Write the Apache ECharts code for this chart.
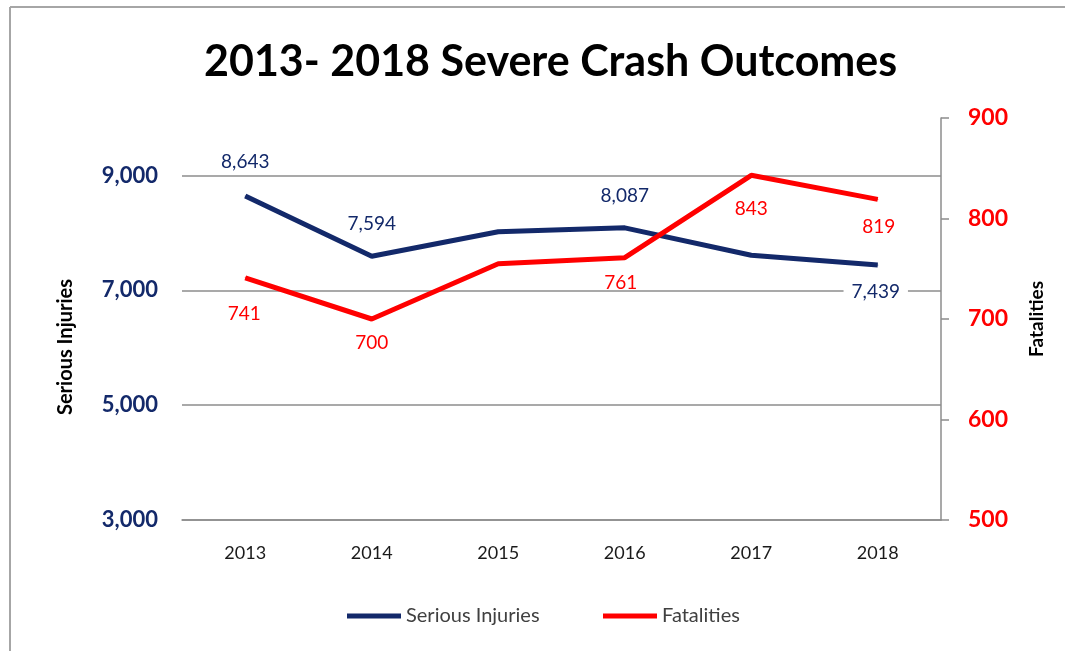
<!DOCTYPE html>
<html lang="en">
<head>
  <meta charset="UTF-8">
  <title>2013- 2018 Severe Crash Outcomes</title>
  <style>
    * { margin: 0; padding: 0; }
    html, body { background: #fff; }
    #main { width: 1065px; height: 651px; }
  </style>
</head>
<body>
  <div id="main"></div>
  <script src="https://cdn.jsdelivr.net/npm/echarts@6/dist/echarts.min.js"></script>
  <script>
  // data
  var years = ['2013', '2014', '2015', '2016', '2017', '2018'];
  var injuries = [8643, 7594, 8020, 8087, 7610, 7439];
  var fatalities = [741, 700, 755, 761, 843, 819];
  var leftTicks = [3000, 5000, 7000, 9000];
  var rightTicks = [500, 600, 700, 800, 900];

  var navy = '#13296a';
  var red = '#ff0000';
  var font = 'Lato';

  // label placement per point (null = no label)
  var injuryLabelOffsets = [[0, -34], [0, -32], null, [0, -32], null, [-2, 27]];
  var fatalLabelOffsets = [[-1, 36], [0, 24], null, [-4, 25], [0, 34], [1, 27]];

  function fmt(v) { return Number(v).toLocaleString('en-US'); }

  function buildData(values, offsets, color, extra) {
    return values.map(function (v, i) {
      var off = offsets[i];
      if (!off) return { value: v, label: { show: false } };
      var lab = {
        show: true,
        position: 'inside',
        offset: off,
        color: color,
        fontFamily: font,
        fontSize: 19,
        formatter: function (p) { return fmt(p.value); }
      };
      if (extra && extra[i]) Object.assign(lab, extra[i]);
      return { value: v, label: lab };
    });
  }

  var chart = echarts.init(document.getElementById('main'));

  var gridColor = '#8c8c8c';
  var legendText = { fontFamily: font, fontSize: 20, color: '#404040' };

  var option = {
    backgroundColor: '#fff',
    animation: false,
    title: {
      text: '2013- 2018 Severe Crash Outcomes',
      left: 199,
      top: 36,
      textStyle: { fontFamily: font, fontWeight: 'bold', fontSize: 43, color: '#000' }
    },
    legend: [
      {
        left: 342, top: 601, icon: 'rect', itemWidth: 54, itemHeight: 5,
        data: ['Serious Injuries'], textStyle: legendText
      },
      {
        left: 598, top: 601, icon: 'rect', itemWidth: 54, itemHeight: 5,
        data: ['Fatalities'], textStyle: legendText
      }
    ],
    grid: { left: 182, right: 124, top: 118, bottom: 131 },
    xAxis: {
      type: 'category',
      data: years,
      boundaryGap: true,
      axisLine: { lineStyle: { color: gridColor, width: 1.5 } },
      axisTick: { show: false },
      axisLabel: { margin: 24, fontFamily: font, fontSize: 18, color: '#1a1a1a' }
    },
    yAxis: [
      {
        type: 'value',
        min: 3000,
        max: 10000,
        interval: 2000,
        name: 'Serious Injuries',
        nameLocation: 'middle',
        nameGap: 106,
        nameTextStyle: { fontFamily: font, fontWeight: 'bold', fontSize: 20, color: '#000', padding: [0, 56, 0, 0] },
        axisLine: { show: false },
        axisTick: { show: false },
        axisLabel: {
          margin: 24,
          showMaxLabel: false,
          fontFamily: font,
          fontWeight: 'bold',
          fontSize: 22,
          color: navy,
          formatter: function (v) { return leftTicks.indexOf(v) >= 0 ? fmt(v) : ''; }
        },
        splitLine: {
          lineStyle: { color: [gridColor, gridColor, gridColor, gridColor, 'rgba(0,0,0,0)'], width: 1.5 }
        }
      },
      {
        type: 'value',
        min: 500,
        max: 900,
        interval: 100,
        position: 'right',
        name: 'Fatalities',
        nameLocation: 'middle',
        nameGap: 86,
        nameRotate: 90,
        nameTextStyle: { fontFamily: font, fontWeight: 'bold', fontSize: 19, color: '#000' },
        axisLine: { show: true, lineStyle: { color: gridColor, width: 1.5 } },
        axisTick: { show: true, length: 8, lineStyle: { color: gridColor, width: 1.5 } },
        axisLabel: {
          margin: 27,
          fontFamily: font,
          fontWeight: 'bold',
          fontSize: 23,
          color: red,
          formatter: function (v) { return rightTicks.indexOf(v) >= 0 ? String(v) : ''; }
        },
        splitLine: { show: false }
      }
    ],
    series: [
      {
        name: 'Serious Injuries',
        type: 'line',
        yAxisIndex: 0,
        symbol: 'circle',
        symbolSize: 1,
        itemStyle: { color: navy },
        lineStyle: { color: navy, width: 5 },
        data: buildData(injuries, injuryLabelOffsets, navy, {
          5: { backgroundColor: '#fff', padding: [2, 8, 2, 8] }
        })
      },
      {
        name: 'Fatalities',
        type: 'line',
        yAxisIndex: 1,
        symbol: 'circle',
        symbolSize: 1,
        itemStyle: { color: red },
        lineStyle: { color: red, width: 5 },
        data: buildData(fatalities, fatalLabelOffsets, red)
      }
    ],
    graphic: [
      { type: 'line', shape: { x1: 10, y1: 7, x2: 1065, y2: 7 }, style: { stroke: '#a6a6a6', lineWidth: 2 } },
      { type: 'line', shape: { x1: 10, y1: 7, x2: 10, y2: 651 }, style: { stroke: '#a6a6a6', lineWidth: 2 } }
    ]
  };

  chart.setOption(option);
  </script>
</body>
</html>
